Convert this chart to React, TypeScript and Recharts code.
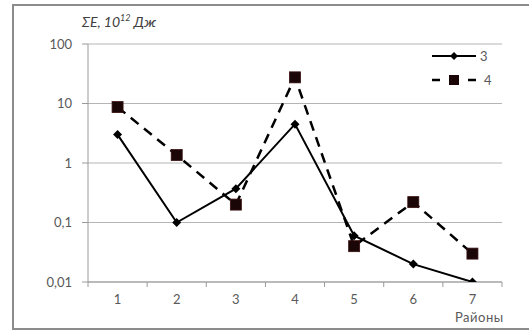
import { LineChart, Line, XAxis, YAxis, CartesianGrid } from 'recharts'

const districts = ['1', '2', '3', '4', '5', '6', '7']
const series3 = [3, 0.1, 0.37, 4.5, 0.06, 0.02, 0.01]
const series4 = [8.7, 1.36, 0.2, 27.5, 0.04, 0.22, 0.03]
const yTicks = [0.01, 0.1, 1, 10, 100]

const data = districts.map((d, i) => ({ d, s3: series3[i], s4: series4[i] }))

const W = 529
const H = 333
const LEFT = 88
const RIGHT = 27
const TOP = 44
const XH = 51
const band = (W - LEFT - RIGHT) / districts.length

const fmt = (v: number) => String(v).replace('.', ',')

function Diamond(props: any) {
  const { cx, cy } = props
  if (cx == null || cy == null) return null
  const r = 4.5
  return <polygon points={`${cx},${cy - r} ${cx + r},${cy} ${cx},${cy + r} ${cx - r},${cy}`} fill="#000" />
}

function Square(props: any) {
  const { cx, cy } = props
  if (cx == null || cy == null) return null
  const s = 11
  return <rect x={cx - s / 2} y={cy - s / 2} width={s} height={s} fill="#1a0606" stroke="#3a1010" strokeWidth={0.8} />
}

function XTick(props: any) {
  const { x, y, payload, index } = props
  const left = x - band / 2
  const right = x + band / 2
  return (
    <g>
      <line x1={left} y1={y - 8} x2={left} y2={y - 3} stroke="#9a9a9a" />
      {index === districts.length - 1 && <line x1={right} y1={y - 8} x2={right} y2={y - 3} stroke="#9a9a9a" />}
      <text x={x} y={y + 14} textAnchor="middle" fill="#595959" fontSize={13}>{payload.value}</text>
    </g>
  )
}

export default function App() {
  return (
    <div style={{ position: 'absolute', left: 0, top: 0, width: W, height: H, background: '#fff', fontFamily: 'Lato, "Open Sans", sans-serif' }}>
      <div style={{ position: 'absolute', left: 12, top: 4, width: W, height: 326, border: '2px solid #8c8c8c', boxSizing: 'border-box' }} />
      <LineChart width={W} height={H} data={data} margin={{ top: TOP, right: RIGHT, bottom: 0, left: 0 }}>
        <CartesianGrid vertical={false} stroke="#b5b5b5" />
        <XAxis dataKey="d" scale="band" height={XH} axisLine={{ stroke: '#9a9a9a' }} tickLine={false} tick={<XTick />} interval={0} />
        <YAxis
          scale="log"
          domain={[0.01, 100]}
          ticks={yTicks}
          allowDataOverflow
          width={LEFT}
          tickFormatter={fmt}
          axisLine={{ stroke: '#9a9a9a' }}
          tickLine={{ stroke: '#9a9a9a' }}
          tickSize={6}
          tickMargin={10}
          tick={{ fill: '#595959', fontSize: 13 }}
          interval={0}
        />
        <Line dataKey="s3" stroke="#000" strokeWidth={2} dot={<Diamond />} isAnimationActive={false} />
        <Line dataKey="s4" stroke="#000" strokeWidth={2.5} strokeDasharray="10 7" dot={<Square />} isAnimationActive={false} />
      </LineChart>
      <div style={{ position: 'absolute', left: 82, top: 12, fontSize: 14, fontStyle: 'italic', color: '#404040' }}>
        ΣE, 10<sup style={{ fontSize: 9 }}>12</sup> Дж
      </div>
      <div style={{ position: 'absolute', left: 455, top: 309, fontSize: 13, color: '#595959', letterSpacing: 0.5 }}>Районы</div>
      <svg style={{ position: 'absolute', left: 430, top: 46 }} width={80} height={44}>
        <line x1={2} y1={10} x2={46} y2={10} stroke="#000" strokeWidth={2} />
        <polygon points="24,6 28,10 24,14 20,10" fill="#000" />
        <text x={50} y={15} fill="#595959" fontSize={13}>3</text>
        <line x1={2} y1={34} x2={10} y2={34} stroke="#000" strokeWidth={2.5} />
        <line x1={38} y1={34} x2={46} y2={34} stroke="#000" strokeWidth={2.5} />
        <rect x={19} y={29} width={10} height={10} fill="#1a0606" />
        <text x={54} y={39} fill="#595959" fontSize={13}>4</text>
      </svg>
    </div>
  )
}
